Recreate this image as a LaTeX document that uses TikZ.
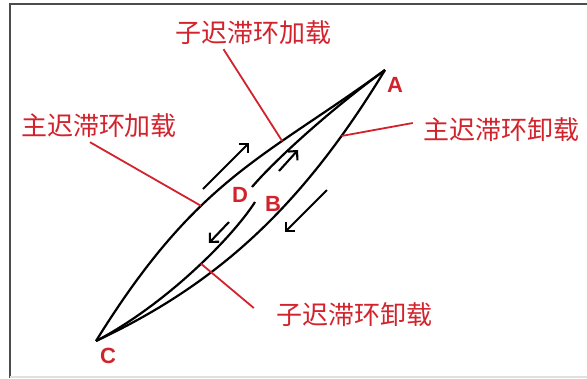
\documentclass[tikz,border=0pt]{standalone}
\usepackage{fontspec}
\setsansfont{Liberation Sans}
\newfontfamily\cjk{Noto Sans CJK SC}
\usetikzlibrary{arrows.meta}
\definecolor{labelred}{RGB}{210,35,45}

\begin{document}
\begin{tikzpicture}[x=1pt,y=-1pt,>={Straight Barb[length=6.5pt,width=13pt]},curve/.style={line width=2.2pt},flow/.style={->,line width=2.1pt},leader/.style={labelred,line width=1.8pt},cnlabel/.style={labelred,font=\cjk\fontsize{26}{26}\selectfont,inner sep=0pt},point/.style={labelred,font=\sffamily\bfseries\fontsize{22}{22}\selectfont,inner sep=0pt}]
\useasboundingbox (0,0) rectangle (587,378);
% frame
\draw[line width=1.5pt,black!70] (10,378)--(10,4)--(587,4);
\draw[line width=2pt,black!12] (10,377)--(587,377);
\coordinate (A) at (385,70);\coordinate (C) at (96,341);
\coordinate (Dtop) at (252,187);\coordinate (Dbot) at (255,202);
% main loop and sub loop
\draw[curve] (C) .. controls (197,178) and (263,159) .. (A) coordinate[pos=0.38] (mainload) coordinate[pos=0.68] (subload);
\draw[curve] (A) .. controls (300,210) and (215,285) .. (C) coordinate[pos=0.17] (mainunload);
\draw[curve] (Dtop) .. controls (275,160) and (330,110) .. (A);
\draw[curve] (Dbot) .. controls (232,238) and (165,305) .. (C) coordinate[pos=0.45] (subunload);
% direction arrows
\draw[flow] (203,189)--(249,143);
\draw[flow] (279,171)--(298,150);
\draw[flow] (229,222)--(209,243);
\draw[flow] (327,190)--(285,232);
% labels
\node[cnlabel] (tsubload) at (253.5,33) {子迟滞环加载};
\node[cnlabel] (tmainload) at (99,126) {主迟滞环加载};
\node[cnlabel] (tmainunload) at (501,130) {主迟滞环卸载};
\node[cnlabel] (tsubunload) at (354,315) {子迟滞环卸载};
\draw[leader] ([xshift=-30pt,yshift=-4pt]tsubload.south)--(subload);
\draw[leader] ([xshift=-9pt,yshift=-4pt]tmainload.south)--(mainload);
\draw[leader] ([xshift=-10pt,yshift=7pt]tmainunload.west)--(mainunload);
\draw[leader] ([xshift=-22pt,yshift=7pt]tsubunload.west)--(subunload);
\node[point] (labA) at (395,85) {A};
\node[point] (labB) at (273,204) {B};
\node[point] (labC) at (108,356) {C};
\node[point] (labD) at (240,195) {D};
\end{tikzpicture}
\end{document}
